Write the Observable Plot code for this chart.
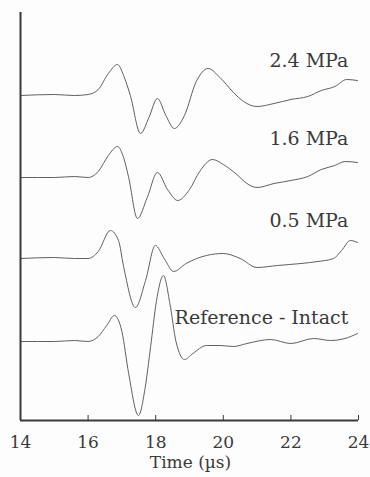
<!DOCTYPE html>
<html>
<head>
<meta charset="utf-8">
<script src="https://cdn.jsdelivr.net/npm/d3@7"></script>
<script src="https://cdn.jsdelivr.net/npm/@observablehq/plot@0.6"></script>
<style>
  html, body { margin: 0; padding: 0; background: #fdfdfd; }
  #chart { width: 370px; height: 477px; }
</style>
</head>
<body>
<div id="chart"></div>
<script>
// ---- data ----
const traceLabels = ["2.4 MPa", "1.6 MPa", "0.5 MPa", "Reference - Intact"];
const traceOffsets = [325, 243, 162, 79];

const time24 = [14.0, 15.0, 15.6, 16.0, 16.3, 16.6, 16.87, 17.05, 17.25, 17.55, 17.8, 18.05, 18.3, 18.55, 18.85, 19.2, 19.55, 19.9, 20.3, 20.6, 21.0, 21.5, 22.0, 22.5, 22.9, 23.3, 23.65, 23.97];
const amp24  = [0, 1, 0, 1, 6, 22, 31, 20, 0, -38, -22, -3, -20, -33, -20, 14, 27, 18, 3, -6, -11, -8, -4, -1, 5, 9, 16, 15];

const time16 = [14.0, 15.0, 15.6, 16.0, 16.3, 16.6, 16.87, 17.05, 17.2, 17.46, 17.75, 18.05, 18.35, 18.65, 19.0, 19.3, 19.68, 20.0, 20.4, 20.7, 21.0, 21.5, 22.0, 22.5, 22.9, 23.3, 23.6, 23.97];
const amp16  = [0, 0, 1, 0, 6, 22, 31, 20, 0, -41, -20, 5, -12, -23, -12, 6, 18, 13, 3, -6, -10, -6, -3, 1, 8, 12, 16, 15];

const time05 = [14.0, 15.0, 15.6, 16.0, 16.3, 16.66, 16.9, 17.05, 17.4, 17.7, 17.99, 18.25, 18.53, 18.9, 19.5, 20.0, 20.5, 21.0, 21.6, 22.3, 22.8, 23.26, 23.5, 23.76, 23.97];
const amp05  = [0, 1, 0, 0, 7, 28, 18, -8, -49, -22, 13, 0, -13, -5, 3, 5, 0, -9, -7, -5, -3, 0, 8, 18, 16];

const timeRef = [14.0, 15.0, 15.6, 16.0, 16.3, 16.55, 16.78, 17.0, 17.2, 17.49, 17.68, 17.85, 18.02, 18.23, 18.42, 18.6, 18.85, 19.1, 19.5, 19.9, 20.3, 20.7, 21.4, 22.0, 22.67, 23.17, 23.6, 23.97];
const ampRef  = [0, 0, 1, 0, 5, 16, 26, 10, -32, -74, -48, -5, 40, 66, 38, 0, -18, -12, -4, -4, -5, -2, 2, -2, 3, 1, 3, 8];

const xTicks = [14, 16, 18, 20, 22, 24];
const xLabel = "Time (µs)";

// ---- build table ----
const seriesTimes = [time24, time16, time05, timeRef];
const seriesAmps = [amp24, amp16, amp05, ampRef];
const rows = [];
seriesTimes.forEach((ts, k) => {
  ts.forEach((t, i) => rows.push({series: traceLabels[k], t, v: traceOffsets[k] + seriesAmps[k][i]}));
});

const serif = "'DejaVu Serif', 'Liberation Serif', serif";
const ink = "#3a3a3a";

const chart = Plot.plot({
  width: 370,
  height: 477,
  marginLeft: 20,
  marginRight: 12,
  marginTop: 12,
  marginBottom: 57,
  style: {background: "transparent", fontFamily: serif, color: ink},
  x: {domain: [14, 24]},
  y: {domain: [0, 408], axis: null},
  marks: [
    Plot.line(rows, {x: "t", y: "v", z: "series", curve: "monotone-x", stroke: "#606060", strokeWidth: 1}),
    Plot.ruleY([0], {stroke: ink, strokeWidth: 2}),
    Plot.ruleX([14], {stroke: ink, strokeWidth: 2}),
    Plot.ruleX(xTicks.slice(1), {x: d => d, y1: 0, y2: 5, stroke: ink, strokeWidth: 1}),
    Plot.axisX({ticks: xTicks, tickSize: 0, tickPadding: 15, fontSize: 17, fontFamily: serif, fill: ink, label: null, tickFormat: d => String(d)}),
    Plot.text([xLabel], {x: 19.03, frameAnchor: "bottom", dy: 47, fontSize: 17, fontFamily: serif, fill: ink}),
    Plot.text(traceLabels, {x: 23.7, y: (d, i) => [360, 282, 200, 103][i], textAnchor: "end", fontSize: 19, fontFamily: serif, fill: ink})
  ]
});
document.getElementById("chart").appendChild(chart);
</script>
</body>
</html>
